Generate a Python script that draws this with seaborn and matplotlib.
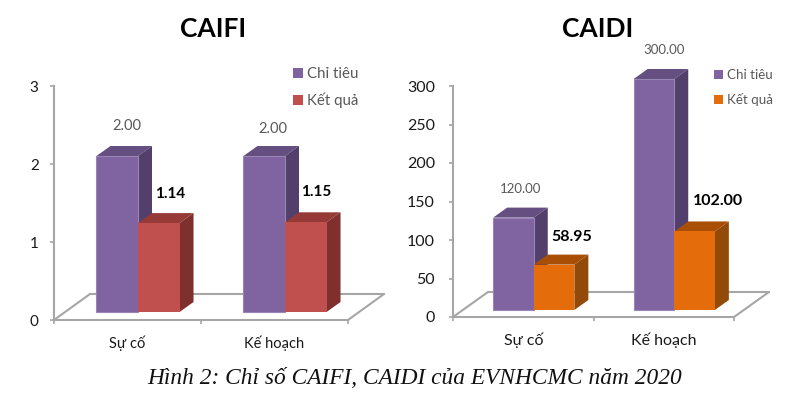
import pandas as pd
import seaborn as sns
import matplotlib.pyplot as plt
from matplotlib.patches import Polygon
from matplotlib.transforms import offset_copy

W, H = 795, 393

categories = ['Sự cố', 'Kế hoạch']
series = ['Chỉ tiêu', 'Kết quả']
caifi_target = [2.00, 2.00]
caifi_result = [1.14, 1.15]
caidi_target = [120.00, 300.00]
caidi_result = [58.95, 102.00]
caifi_ticks = [0, 1, 2, 3]
caidi_ticks = [0, 50, 100, 150, 200, 250, 300]

sns.set_theme(style='white')
plt.rcParams['font.family'] = ['Lato', 'Noto Sans', 'DejaVu Sans']

PURPLE = ('#8064A2', '#644F80', '#533F6B')
RED = ('#C0504D', '#953A37', '#7F2F2D')
ORANGE = ('#E46C0A', '#A94F05', '#934A08')
GREY = '#A6A6A6'


def make_df(target, result):
    return pd.DataFrame({
        'category': categories * 2,
        'series': [series[0]] * 2 + [series[1]] * 2,
        'value': list(target) + list(result),
    })


def px_rect(left, right, top, bottom):
    return [left / W, 1 - bottom / H, (right - left) / W, (bottom - top) / H]


def draw_panel(fig, target, result, ticks, colors, box, bar_shift, bar_width, floor,
               title, title_x, fonts, label_fmt, label_offsets, legend_xy):
    left, right, top, bottom = box
    ymax = ticks[-1]

    # frame with the axis and the floor
    ax = fig.add_axes(px_rect(left, right, top, bottom))
    ax.set_xlim(-0.5, 1.5)
    ax.set_ylim(0, ymax)
    ax.set_yticks(ticks)
    ax.set_xticks([-0.5, 0.5, 1.5])
    ax.set_xticklabels([])
    ax.set_xticks([0, 1], minor=True)
    ax.set_xticklabels(categories, minor=True)
    ax.tick_params(axis='x', which='major', length=3, width=1.2, color=GREY, bottom=True)
    ax.tick_params(axis='x', which='minor', length=0, labelsize=fonts['cat'],
                   labelcolor='#1a1a1a', pad=fonts['cat_pad'])
    ax.tick_params(axis='y', length=3, width=1.2, color=GREY, left=True,
                   labelsize=fonts['tick'], labelcolor='#1a1a1a', pad=fonts['tick_pad'])
    for name, spine in ax.spines.items():
        spine.set_visible(name in ('left', 'bottom'))
        spine.set_color(GREY)
        spine.set_linewidth(1.5)

    back = offset_copy(ax.transData, fig=fig, x=floor[0], y=floor[1], units='dots')
    for x_end in (-0.5, 1.5):
        p0 = ax.transData.transform((x_end, 0))
        p1 = back.transform((x_end, 0))
        ax.plot([p0[0], p1[0]], [p0[1], p1[1]], color=GREY, lw=1.5, transform=None,
                clip_on=False, solid_capstyle='round')
    ax.plot([-0.5, 1.5], [0, 0], color=GREY, lw=1.5, transform=back, clip_on=False)

    # bars sit in a transparent axes moved up and right of the frame
    ax_bars = fig.add_axes(px_rect(left + bar_shift[0], right + bar_shift[0],
                                   top - bar_shift[1], bottom - bar_shift[1]))
    ax_bars.patch.set_alpha(0)
    palette = {series[0]: colors[0][0], series[1]: colors[1][0]}
    sns.barplot(data=make_df(target, result), x='category', y='value', hue='series',
                order=categories, hue_order=series, palette=palette, saturation=1,
                width=bar_width, gap=0, ax=ax_bars, edgecolor='none')
    ax_bars.set_xlim(-0.5, 1.5)
    ax_bars.set_ylim(0, ymax)

    depth_x, depth_y = 14, 10
    shifted = offset_copy(ax_bars.transData, fig=fig, x=depth_x, y=depth_y, units='dots')
    inv = ax_bars.transData.inverted()
    for h, container in enumerate(ax_bars.containers):
        front, top_c, side_c = colors[h]
        for i, bar in enumerate(container):
            x0, x1 = bar.get_x(), bar.get_x() + bar.get_width()
            val = bar.get_height()
            z = 2 + 2 * h
            bar.set_zorder(z)
            bar.set_clip_on(False)
            if h == 0:
                bar.set_edgecolor('#9A86B5')
                bar.set_linewidth(0.8)
            ox, oy = inv.transform(shifted.transform((x1, val)))
            dx, dy = ox - x1, oy - val
            ax_bars.add_patch(Polygon([(x0, val), (x1, val), (x1 + dx, val + dy), (x0 + dx, val + dy)],
                                      closed=True, facecolor=top_c, edgecolor='none',
                                      zorder=z - 0.5, clip_on=False))
            ax_bars.add_patch(Polygon([(x1, 0), (x1, val), (x1 + dx, val + dy), (x1 + dx, dy)],
                                      closed=True, facecolor=side_c, edgecolor='none',
                                      zorder=z - 0.5, clip_on=False))
            off = label_offsets[h][i]
            ax_bars.annotate(f'{val:.2f}', xy=((x0 + x1) / 2, val), xytext=off,
                             textcoords='offset pixels', ha='center', va='center',
                             fontsize=label_fmt[h]['size'], fontweight=label_fmt[h]['weight'],
                             color=label_fmt[h]['color'], annotation_clip=False, zorder=10)

    handles, labels = ax_bars.get_legend_handles_labels()
    ax_bars.legend(handles, labels, loc='upper left',
                   bbox_to_anchor=(legend_xy[0] / W, 1 - legend_xy[1] / H),
                   bbox_transform=fig.transFigure, frameon=False, borderpad=0, borderaxespad=0,
                   fontsize=fonts['legend'], handlelength=0.65, handleheight=0.65,
                   handletextpad=0.3, labelspacing=fonts['legend_gap'], labelcolor='#595959')
    ax_bars.set_axis_off()

    fig.text(title_x / W, 1 - 29 / H, title, ha='center', va='center',
             fontsize=19, fontweight='bold', color='black')


fig = plt.figure(figsize=(W / 100, H / 100), dpi=100, facecolor='white')

draw_panel(fig, caifi_target, caifi_result, caifi_ticks, (PURPLE, RED),
           box=(54, 348, 86, 320), bar_shift=(10.5, 8), bar_width=0.565, floor=(36, 26),
           title='CAIFI', title_x=213,
           fonts={'cat': 10.5, 'cat_pad': 11, 'tick': 11, 'tick_pad': 8,
                  'legend': 10.8, 'legend_gap': 0.8},
           label_fmt=[{'size': 10.5, 'weight': 'normal', 'color': '#595959'},
                      {'size': 11, 'weight': 'bold', 'color': 'black'}],
           label_offsets=[[(10, 29.5), (9, 27)], [(11, 29), (10, 30)]],
           legend_xy=(293, 67))

draw_panel(fig, caidi_target, caidi_result, caidi_ticks, (PURPLE, ORANGE),
           box=(453, 734, 86, 317), bar_shift=(10.5, 7), bar_width=0.578, floor=(35, 25),
           title='CAIDI', title_x=598,
           fonts={'cat': 11.5, 'cat_pad': 11, 'tick': 11.5, 'tick_pad': 10,
                  'legend': 9.6, 'legend_gap': 0.92},
           label_fmt=[{'size': 9.5, 'weight': 'normal', 'color': '#595959'},
                      {'size': 11.5, 'weight': 'bold', 'color': 'black'}],
           label_offsets=[[(7, 29), (10, 29)], [(17.5, 28), (23, 30)]],
           legend_xy=(714, 69))

fig.text(414.5 / W, 1 - 379 / H, 'Hình 2: Chỉ số CAIFI, CAIDI của EVNHCMC năm 2020',
         ha='center', va='center', fontsize=16.8, style='italic',
         family=['Liberation Serif', 'DejaVu Serif'], color='#111111')

fig.savefig('out.png', dpi=100)
plt.close(fig)
